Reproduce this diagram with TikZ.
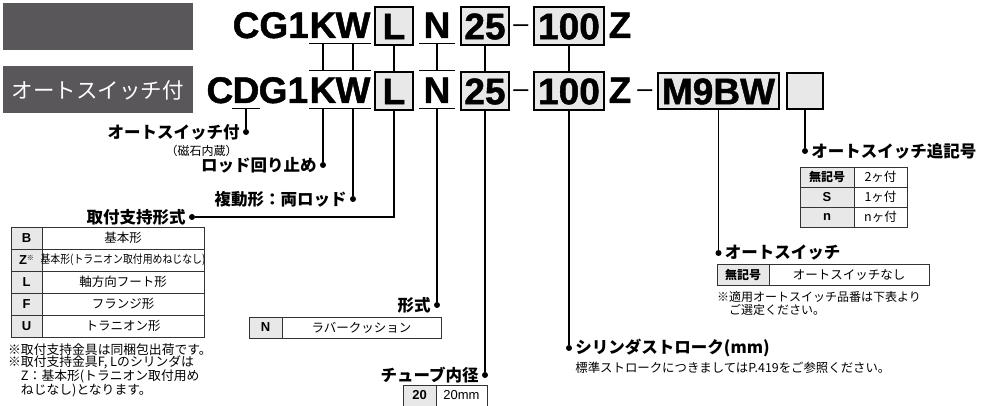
\documentclass[tikz,border=0pt]{standalone}
\usepackage{fontspec}
\setmainfont{Liberation Sans}
\newfontfamily\jp{Noto Sans CJK JP}
\newfontfamily\codefont[BoldFeatures={FakeBold=1.2}]{Liberation Sans}
\usetikzlibrary{positioning,calc}

\definecolor{bandgray}{HTML}{595759}
\definecolor{keyfill}{HTML}{E8E8E8}
\definecolor{rulegray}{HTML}{333333}

\tikzset{
  code/.style={font=\codefont\fontsize{37}{37}\selectfont\bfseries, inner sep=0pt,
    text height=32pt, text depth=5pt, anchor=base},
  codebox/.style={draw, line width=1.4pt, fill=keyfill, inner sep=0pt,
    font=\codefont\fontsize{37}{37}\selectfont\bfseries, text height=26.5pt, text depth=0pt,
    minimum height=38pt},
  hyph/.style={font=\fontsize{27}{27}\selectfont, inner sep=0pt, anchor=base},
  conn/.style={line width=1.2pt},
  dot/.style={circle, fill=black, inner sep=0pt, minimum size=6pt},
  lbl/.style={font=\jp\bfseries\fontsize{16.5}{16.5}\selectfont, inner sep=0pt},
  sub/.style={font=\jp\fontsize{12}{12}\selectfont, inner sep=0pt},
  note/.style={font=\jp\fontsize{12.8}{12.6}\selectfont, inner sep=0pt, align=left},
  cell/.style={font=\jp\fontsize{12.5}{12.5}\selectfont, inner sep=0pt},
  key/.style={font=\fontsize{13}{13}\selectfont\bfseries, inner sep=0pt},
  keyjp/.style={font=\jp\bfseries\fontsize{12}{12}\selectfont, inner sep=0pt},
  tab/.style={draw=rulegray, line width=0.9pt},
}

\begin{document}
\begin{tikzpicture}[x=1pt, y=-1pt]
\useasboundingbox (0,0) rectangle (985,406);

% dark bands on the left
\fill[bandgray] (3,3) rectangle (193,50);
\fill[bandgray] (3,66) rectangle (193,113);
\node[font=\jp\fontsize{21.5}{21.5}\selectfont, text=white, inner sep=0pt] (bandTxt) at (98,90) {オートスイッチ付};

% upper code line
\node[code, anchor=base east] (tCG) at (309,38) {CG1};
\node[code] (tK) at (323,38) {K};
\node[code] (tW) at (353,38) {W};
\node[codebox, minimum width=38pt] (tL) at (394,26) {L};
\node[code, minimum width=36pt] (tN) at (437,38) {N};
\node[codebox, minimum width=48pt] (t25) at (485,26) {25};
\node[hyph] (tH) at (521,33) {\textendash};
\node[codebox, minimum width=70pt] (t100) at (569,26) {100};
\node[code] (tZ) at (620,38) {Z};

% lower code line
\node[code, anchor=base east] (bC) at (233.5,103) {C};
\node[code] (bD) at (246,103) {D};
\node[code, anchor=base west] (bG) at (258.5,103) {G1};
\node[code] (bK) at (323,103) {K};
\node[code] (bW) at (353,103) {W};
\node[codebox, minimum width=38pt] (bL) at (394,91) {L};
\node[code, minimum width=36pt] (bN) at (437,103) {N};
\node[codebox, minimum width=48pt] (b25) at (485,91) {25};
\node[hyph] (bH1) at (521,98) {\textendash};
\node[codebox, minimum width=70pt] (b100) at (569,91) {100};
\node[code] (bZ) at (620,103) {Z};
\node[hyph] (bH2) at (645,98) {\textendash};
\node[codebox, minimum width=121pt, minimum height=36pt] (bSw) at (718.5,91) {M9BW};
\node[codebox, minimum width=36pt, minimum height=36pt] (bSfx) at (805,91) {};

% links between the two lines
\foreach \n in {K,W,N} {
  \draw[conn] (t\n.south west) -- (t\n.south east);
  \draw[conn] (b\n.north west) -- (b\n.north east);
  \draw[conn] (t\n.south) -- (b\n.north);
}
\foreach \n in {D,K,W,N}
  \draw[conn] (b\n.south west) -- (b\n.south east);
\foreach \n in {L,25,100}
  \draw[conn] (t\n) -- (b\n);

% end dots
\node[dot] (pAS)   at (246,132) {};
\node[dot] (pRot)  at (323,165) {};
\node[dot] (pRod)  at (353,199) {};
\node[dot] (pMnt)  at (192,217) {};
\node[dot] (pCus)  at (437,305) {};
\node[dot] (pBore) at (485,375) {};
\node[dot] (pStr)  at (569,348) {};
\node[dot] (pSw)   at (718.5,253) {};
\node[dot] (pSfx)  at (805,151) {};

\draw[conn] (bD.south) -- (pAS);
\draw[conn] (bK.south) -- (pRot);
\draw[conn] (bW.south) -- (pRod);
\draw[conn] (bL) |- (pMnt);
\draw[conn] (bN.south) -- (pCus);
\draw[conn] (b25) -- (pBore);
\draw[conn] (b100) -- (pStr);
\draw[conn] (bSw) -- (pSw);
\draw[conn] (bSfx) -- (pSfx);

% labels
\node[lbl, left=3pt of pAS] (lAS) {オートスイッチ付};
\node[sub, anchor=north east] (lMag) at ($(lAS.south east)+(-2,5)$) {（磁石内蔵）};
\node[lbl, left=3pt of pRot] (lRot) {ロッド回り止め};
\node[lbl, left=3pt of pRod] (lRod) {複動形：両ロッド};
\node[lbl, left=3pt of pMnt] (lMnt) {取付支持形式};
\node[lbl, left=3pt of pCus] (lCus) {形式};
\node[lbl, left=3pt of pBore] (lBore) {チューブ内径};
\node[lbl, right=3pt of pStr] (lStr) {シリンダストローク(mm)};
\node[sub, font=\jp\fontsize{12.4}{12.4}\selectfont, anchor=north west] (lStrN) at ($(lStr.south west)+(0,5)$) {標準ストロークにつきましてはP.419をご参照ください。};
\node[lbl, right=3pt of pSw] (lSw) {オートスイッチ};
\node[lbl, right=3pt of pSfx] (lSfx) {オートスイッチ追記号};

% mounting table
\fill[keyfill] (11,227) rectangle (42,337);
\foreach \i in {1,...,4}
  \draw[tab, line width=0.6pt] (11,227+22*\i) -- (204,227+22*\i);
\draw[tab, line width=0.6pt] (42,227) -- (42,337);
\draw[tab] (11,227) rectangle (204,337);
\foreach \k/\t/\r in {B/基本形/0, L/軸方向フート形/2, F/フランジ形/3, U/トラニオン形/4} {
  \node[key] (mk\r) at (26.5,238+22*\r) {\k};
  \node[cell] (mt\r) at (123,238+22*\r) {\t};
}
\node[key] (mk1) at (26.5,260) {Z\raisebox{4pt}{\jp\mdseries\fontsize{7}{7}\selectfont ※}};
\node[cell] (mt1) at (123,260) {\scalebox{0.86}[1]{\fontsize{11.5}{11.5}\selectfont 基本形(トラニオン取付用めねじなし)}};
\node[note, anchor=north west] (nMnt) at (8,343) {※取付支持金具は同梱包出荷です。\\※取付支持金具F, Lのシリンダは\\　Z：基本形(トラニオン取付用め\\　ねじなし)となります。};

% cushion table
\fill[keyfill] (249,317) rectangle (282,338);
\draw[tab, line width=0.6pt] (282,317) -- (282,338);
\draw[tab] (249,317) rectangle (441,338);
\node[key] (ck) at (265.5,327.5) {N};
\node[cell] (ct) at (361.5,327.5) {ラバークッション};

% bore table
\fill[keyfill] (403,385) rectangle (436,406);
\draw[tab, line width=0.6pt] (436,385) -- (436,406);
\draw[tab] (403,385) rectangle (487,406);
\node[key] (bk) at (419.5,395.5) {20};
\node[font=\fontsize{13}{13}\selectfont, inner sep=0pt] (bt) at (461.5,395.5) {20mm};

% auto switch table
\fill[keyfill] (717,264) rectangle (769,285);
\draw[tab, line width=0.6pt] (769,264) -- (769,285);
\draw[tab] (717,264) rectangle (929,285);
\node[keyjp] (sk) at (743,274.5) {無記号};
\node[cell] (st) at (849,274.5) {オートスイッチなし};
\node[note, font=\jp\fontsize{12}{12.8}\selectfont, anchor=north west] (nSw) at (717,291) {※適用オートスイッチ品番は下表より\\　ご選定ください。};

% suffix table
\fill[keyfill] (800,167) rectangle (854,227);
\foreach \i in {1,2}
  \draw[tab, line width=0.6pt] (800,167+20*\i) -- (907,167+20*\i);
\draw[tab, line width=0.6pt] (854,167) -- (854,227);
\draw[tab] (800,167) rectangle (907,227);
\node[keyjp] (xk0) at (827,177) {無記号};
\node[cell] (xt0) at (880.5,177) {2ヶ付};
\node[key] (xk1) at (827,197) {S};
\node[cell] (xt1) at (880.5,197) {1ヶ付};
\node[key] (xk2) at (827,217) {n};
\node[cell] (xt2) at (880.5,217) {nヶ付};
\end{tikzpicture}
\end{document}
